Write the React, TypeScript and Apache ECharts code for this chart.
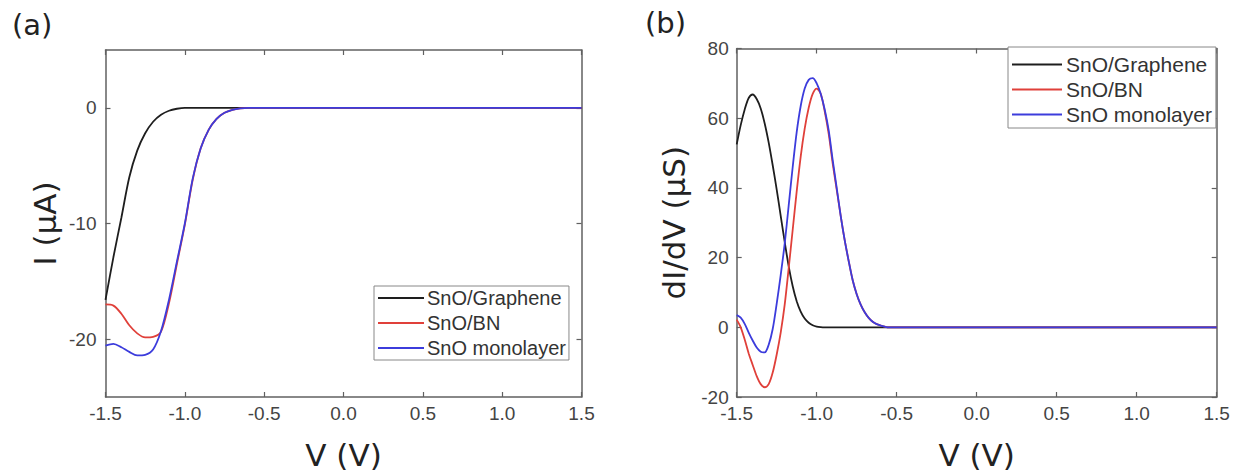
import React, { useEffect, useRef } from "react";
import * as echarts from "echarts";

// ---------- Panel (a): I–V curves ----------
const V_A = [-1.5, -1.45, -1.4, -1.35, -1.3, -1.25, -1.2, -1.15, -1.1, -1.05, -1.0, -0.95, -0.9, -0.85, -0.8, -0.75, -0.7, -0.65, -0.6, 1.5];
const I_GRAPHENE = [-16.6, -12.9, -9.5, -6.0, -3.7, -2.2, -1.2, -0.6, -0.25, -0.08, 0, 0, 0, 0, 0, 0, 0, 0, 0, 0];
const I_BN = [-17.0, -17.1, -17.8, -18.8, -19.5, -19.85, -19.8, -19.35, -16.9, -13.5, -10.1, -6.2, -3.5, -1.9, -0.95, -0.43, -0.17, -0.05, 0, 0];
const I_MONO = [-20.55, -20.4, -20.7, -21.1, -21.4, -21.35, -20.9, -19.3, -16.6, -13.3, -10.0, -6.1, -3.5, -1.9, -0.95, -0.43, -0.17, -0.05, 0, 0];

// ---------- Panel (b): dI/dV curves ----------
const V_B = [
  -1.5, -1.475, -1.45, -1.425, -1.4, -1.375, -1.35, -1.325, -1.3, -1.275,
  -1.25, -1.225, -1.2, -1.175, -1.15, -1.125, -1.1, -1.075, -1.05, -1.025,
  -1.0, -0.975, -0.95, -0.925, -0.9, -0.875, -0.85, -0.825, -0.8, -0.775,
  -0.75, -0.725, -0.7, -0.675, -0.65, -0.625, -0.6, -0.575, -0.55, 1.5,
];
const G_GRAPHENE = [
  52.5, 58, 62.5, 65.8, 66.8, 65.5, 62.8, 58.5, 53, 46.5,
  39.5, 32, 24.5, 17.5, 11.8, 7.5, 4.5, 2.5, 1.3, 0.6,
  0.2, 0.05, 0, 0, 0, 0, 0, 0, 0, 0,
  0, 0, 0, 0, 0, 0, 0, 0, 0, 0,
];
const G_BN = [
  2.2, 0, -3.5, -7.5, -10.8, -14, -16.3, -17.2, -16.3, -13,
  -7.8, -1.5, 6.5, 17, 28, 39, 49, 57, 63, 67,
  68.5, 67, 62, 55.5, 47, 39.5, 32, 25, 19, 13.5,
  9.5, 6.5, 4.3, 2.7, 1.6, 0.9, 0.5, 0.2, 0, 0,
];
const G_MONO = [
  3.5, 2.8, 1.0, -1.5, -3.8, -5.8, -7.0, -7.2, -5.0, -0.5,
  6.8, 15, 24, 35, 46, 56, 63.5, 68.5, 71, 71.5,
  70, 67, 62.5, 56.5, 48, 40, 32, 25, 19, 13.5,
  9.5, 6.5, 4.3, 2.7, 1.6, 0.9, 0.5, 0.2, 0, 0,
];

const SERIES_NAMES = ["SnO/Graphene", "SnO/BN", "SnO monolayer"];
const X_TICKS = [-1.5, -1.0, -0.5, 0.0, 0.5, 1.0, 1.5];
const Y_TICKS_A = [-20, -10, 0];
const COLORS = ["#1e1e1e", "#e0403a", "#3c3cdc"];

const FRAME = "#606060";
const LABEL_FONT = "Liberation Sans, Arial, sans-serif";
const TITLE_FONT = "DejaVu Sans, Verdana, sans-serif";

function pairs(xs: number[], ys: number[]) {
  return xs.map((x, i) => [x, ys[i]]);
}

function xAxes(gridIndex: number) {
  const common = {
    gridIndex,
    type: "value" as const,
    min: X_TICKS[0],
    max: X_TICKS[X_TICKS.length - 1],
    interval: 0.5,
    axisLine: { show: true, onZero: false, lineStyle: { color: FRAME, width: 1.5 } },
    axisTick: { show: true, inside: true, length: 5, lineStyle: { color: FRAME, width: 1.2 } },
    splitLine: { show: false },
  };
  return [
    {
      ...common,
      position: "bottom",
      axisLabel: {
        formatter: (v: number) => v.toFixed(1),
        fontSize: 19,
        color: "#444",
        margin: 7,
        fontFamily: LABEL_FONT,
      },
      name: "V (V)",
      nameLocation: "middle",
      nameGap: 42,
      nameTextStyle: { fontSize: 31, fontFamily: TITLE_FONT, color: "#222" },
    },
    { ...common, position: "top", axisLabel: { show: false } },
  ];
}

export default function App() {
  const ref = useRef<HTMLDivElement>(null);

  useEffect(() => {
    if (!ref.current) return;
    const chart = echarts.init(ref.current, null, { renderer: "svg" });

    const yCommon = {
      type: "value" as const,
      axisLine: { show: true, onZero: false, lineStyle: { color: FRAME, width: 1.5 } },
      splitLine: { show: false },
    };
    const yLabel = { fontSize: 19, color: "#444", margin: 9, fontFamily: LABEL_FONT };
    const yTitle = { fontSize: 31, fontFamily: TITLE_FONT, color: "#222" };

    const lineSeries = (name: string, color: string, xi: number, yi: number, data: number[][], z: number) => ({
      type: "line",
      name,
      color,
      xAxisIndex: xi,
      yAxisIndex: yi,
      data,
      showSymbol: false,
      symbol: "none",
      smooth: 0.3,
      z,
      lineStyle: { color, width: 1.8 },
    });

    const legendBase = {
      orient: "vertical",
      icon: "rect",
      itemHeight: 2,
      selectedMode: false,
      backgroundColor: "#fff",
      borderColor: "#888",
      borderWidth: 1,
      borderRadius: 0,
      data: SERIES_NAMES,
    };

    chart.setOption({
      animation: false,
      backgroundColor: "#fff",
      grid: [
        { left: 105.5, top: 50, width: 476, height: 350, containLabel: false },
        { left: 736.7, top: 48.5, width: 480, height: 353, containLabel: false },
      ],
      xAxis: [...xAxes(0), ...xAxes(1)],
      yAxis: [
        {
          ...yCommon,
          gridIndex: 0,
          position: "left",
          min: -25,
          max: 5,
          interval: 5,
          axisTick: { show: true, inside: true, length: 5, customValues: Y_TICKS_A, lineStyle: { color: FRAME, width: 1.2 } },
          axisLabel: { ...yLabel, customValues: Y_TICKS_A },
          name: "I (μA)",
          nameLocation: "middle",
          nameGap: 45,
          nameTextStyle: yTitle,
        },
        {
          ...yCommon,
          gridIndex: 0,
          position: "right",
          min: -25,
          max: 5,
          interval: 5,
          axisTick: { show: true, inside: true, length: 5, customValues: Y_TICKS_A, lineStyle: { color: FRAME, width: 1.2 } },
          axisLabel: { show: false },
        },
        {
          ...yCommon,
          gridIndex: 1,
          position: "left",
          min: -20,
          max: 80,
          interval: 20,
          axisTick: { show: true, inside: true, length: 5, lineStyle: { color: FRAME, width: 1.2 } },
          axisLabel: { ...yLabel, margin: 8 },
          name: "dI/dV (μS)",
          nameLocation: "middle",
          nameGap: 47,
          nameTextStyle: yTitle,
        },
        {
          ...yCommon,
          gridIndex: 1,
          position: "right",
          min: -20,
          max: 80,
          interval: 20,
          axisTick: { show: true, inside: true, length: 5, lineStyle: { color: FRAME, width: 1.2 } },
          axisLabel: { show: false },
        },
      ],
      legend: [
        {
          ...legendBase,
          left: 374,
          top: 286,
          itemWidth: 46,
          itemGap: 5,
          padding: [2, 3, 2, 4],
          textStyle: { fontSize: 20, lineHeight: 20, fontFamily: LABEL_FONT, color: "#333", padding: [0, 0, 0, -2] },
        },
        {
          ...legendBase,
          left: 1008,
          top: 47,
          itemWidth: 50,
          itemGap: 4,
          padding: [7, 4, 3, 4],
          textStyle: { fontSize: 21, lineHeight: 21, fontFamily: LABEL_FONT, color: "#333", padding: [0, 0, 0, -1] },
        },
      ],
      graphic: [
        {
          type: "text",
          left: 12,
          top: 10,
          style: { text: "(a)", fontSize: 29, fontFamily: TITLE_FONT, fill: "#222" },
        },
        {
          type: "text",
          left: 645,
          top: 8,
          style: { text: "(b)", fontSize: 29, fontFamily: TITLE_FONT, fill: "#222" },
        },
      ],
      series: [
        lineSeries(SERIES_NAMES[0], COLORS[0], 0, 0, pairs(V_A, I_GRAPHENE), 2),
        lineSeries(SERIES_NAMES[1], COLORS[1], 0, 0, pairs(V_A, I_BN), 3),
        lineSeries(SERIES_NAMES[2], COLORS[2], 0, 0, pairs(V_A, I_MONO), 4),
        lineSeries(SERIES_NAMES[0], COLORS[0], 2, 2, pairs(V_B, G_GRAPHENE), 2),
        lineSeries(SERIES_NAMES[1], COLORS[1], 2, 2, pairs(V_B, G_BN), 3),
        lineSeries(SERIES_NAMES[2], COLORS[2], 2, 2, pairs(V_B, G_MONO), 4),
      ],
    });

    return () => chart.dispose();
  }, []);

  return (
    <div
      ref={ref}
      style={{ position: "absolute", left: 0, top: 0, width: 1233, height: 475, background: "#fff" }}
    />
  );
}
